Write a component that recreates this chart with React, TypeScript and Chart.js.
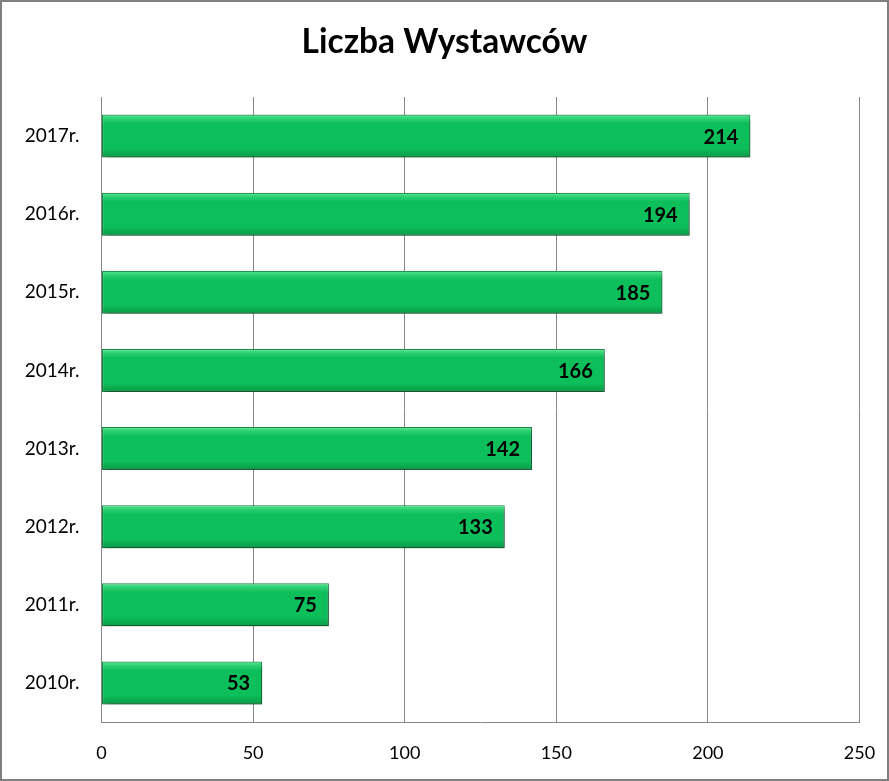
// @ts-nocheck
import {useEffect, useRef} from "react";
import {Chart, registerables} from 'chart.js';

Chart.register(...registerables);

const years = ['2010r.', '2011r.', '2012r.', '2013r.', '2014r.', '2015r.', '2016r.', '2017r.'];
const exhibitors = [53, 75, 133, 142, 166, 185, 194, 214];
const xTicks = [0, 50, 100, 150, 200, 250];

const FONT = 'Lato, "Open Sans", sans-serif';

// shadow under the bars, like the Excel preset
const barShadow = {
    id: 'barShadow',
    beforeDatasetDraw(chart) {
        const ctx = chart.ctx;
        ctx.save();
        ctx.shadowColor = 'rgba(0,0,0,0.38)';
        ctx.shadowBlur = 5;
        ctx.shadowOffsetX = 2;
        ctx.shadowOffsetY = 4;
    },
    afterDatasetDraw(chart) {
        chart.ctx.restore();
    },
};

// bevel highlight + value labels
const barDecor = {
    id: 'barDecor',
    afterDatasetsDraw(chart) {
        const ctx = chart.ctx;
        const meta = chart.getDatasetMeta(0);
        meta.data.forEach((bar, i) => {
            const {x, y, base, height} = bar.getProps(['x', 'y', 'base', 'height'], true);
            const top = y - height / 2;
            const g = ctx.createLinearGradient(0, top, 0, top + height);
            g.addColorStop(0, 'rgba(150,255,190,0.6)');
            g.addColorStop(0.12, 'rgba(120,255,170,0.2)');
            g.addColorStop(0.2, 'rgba(255,255,255,0)');
            g.addColorStop(0.8, 'rgba(0,0,0,0)');
            g.addColorStop(1, 'rgba(0,60,20,0.25)');
            ctx.save();
            ctx.fillStyle = g;
            ctx.fillRect(base + 1, top + 1, x - base - 2, height - 2);
            // value label
            ctx.fillStyle = '#000';
            ctx.font = `bold 20px ${FONT}`;
            ctx.textAlign = 'right';
            ctx.textBaseline = 'middle';
            ctx.fillText(String(exhibitors[i]), x - 12, y + 1);
            ctx.restore();
        });
    },
};

export default function App() {
    const chartRef = useRef(null);
    const chartInstance = useRef(null);

    useEffect(() => {
        document.body.style.margin = '0';
        const ctx = chartRef.current?.getContext('2d');
        chartInstance.current = new Chart(ctx, {
            type: 'bar',
            data: {
                labels: years,
                datasets: [
                    {
                        label: 'Liczba Wystawców',
                        data: exhibitors,
                        backgroundColor: '#0cbf5a',
                        borderColor: '#1b8a48',
                        borderWidth: 1.2,
                        borderSkipped: false,
                        barPercentage: 0.55,
                        categoryPercentage: 1,
                    },
                ],
            },
            plugins: [barShadow, barDecor],
            options: {
                indexAxis: 'y',
                animation: false,
                responsive: true,
                maintainAspectRatio: false,
                layout: {
                    padding: 0,
                },
                plugins: {
                    legend: {display: false},
                    tooltip: {enabled: false},
                    title: {
                        display: true,
                        text: 'Liczba Wystawców',
                        color: '#000',
                        font: {family: FONT, size: 33.5, weight: 'bold', lineHeight: 1.2},
                        padding: {top: 20, bottom: 34.8},
                    },
                },
                scales: {
                    x: {
                        min: 0,
                        max: 250,
                        afterBuildTicks: (scale) => {
                            scale.ticks = xTicks.map((v) => ({value: v}));
                        },
                        afterFit: (scale) => {
                            scale.height = 57;
                            scale.paddingLeft = 0;
                            scale.paddingRight = 27.5;
                        },
                        grid: {
                            color: '#868686',
                            lineWidth: 1,
                            drawTicks: false,
                        },
                        border: {display: true, color: '#868686', width: 1},
                        ticks: {
                            color: '#000',
                            padding: 20,
                            font: {family: FONT, size: 18},
                        },
                    },
                    y: {
                        reverse: true,
                        afterFit: (scale) => {
                            scale.width = 99.5;
                        },
                        grid: {display: false, drawTicks: false},
                        border: {display: false},
                        ticks: {
                            color: '#000',
                            padding: 22,
                            font: {family: FONT, size: 19},
                        },
                    },
                },
            },
        });

        return () => {
            chartInstance.current.destroy();
        };
    }, []);

    return (
        <div style={{width: 889, height: 781, boxSizing: 'border-box', border: '2px solid #7f7f7f', background: '#fff'}}>
            <div style={{position: 'relative', width: 885, height: 777}}>
                <canvas ref={chartRef}/>
            </div>
        </div>
    );
}
